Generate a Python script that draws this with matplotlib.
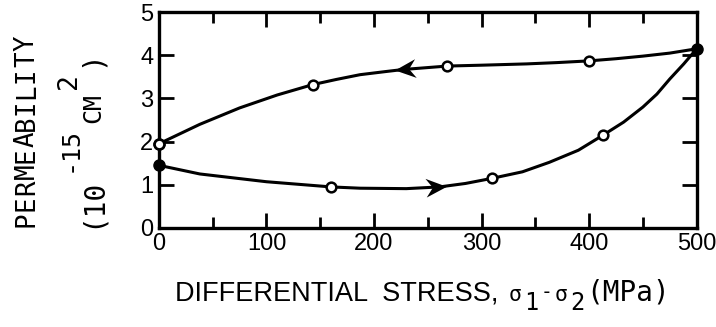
import numpy as np
import matplotlib
matplotlib.use("Agg")
import matplotlib.pyplot as plt
from matplotlib.path import Path
from matplotlib.markers import MarkerStyle
from matplotlib.transforms import Affine2D

# traced curves (stress in MPa, permeability in 1e-15 cm^2)
upper_x = [0, 38, 75, 110, 143, 165, 187, 210, 227, 268, 300, 342, 370, 400, 425, 450, 475, 500]
upper_y = [1.95, 2.4, 2.78, 3.08, 3.32, 3.44, 3.55, 3.62, 3.67, 3.75, 3.77, 3.8, 3.83, 3.87,
           3.92, 3.98, 4.05, 4.15]
lower_x = [0, 38, 100, 160, 187, 230, 261, 285, 310, 338, 363, 390, 413, 432, 450, 463, 475,
           488, 500]
lower_y = [1.45, 1.25, 1.07, 0.95, 0.92, 0.91, 0.95, 1.03, 1.15, 1.3, 1.52, 1.8, 2.15, 2.45,
           2.8, 3.1, 3.45, 3.8, 4.15]

# measured points
open_x = [0, 143, 268, 400, 160, 310, 413]
open_y = [1.95, 3.32, 3.75, 3.87, 0.95, 1.15, 2.15]
filled_x = [0, 500, 0]
filled_y = [1.45, 4.15, 1.95]

# arrow centres along each branch
upper_arrow_x = 229
lower_arrow_x = 258

W, H = 716, 327
sans = 'Liberation Sans'
mono = 'DejaVu Sans Mono'

fig = plt.figure(figsize=(W / 100, H / 100), dpi=100)
ax = fig.add_axes([0.222, 0.303, 0.751, 0.66])
ax.set_xlim(0, 500)
ax.set_ylim(0, 5)

ax.plot(upper_x, upper_y, color='black', lw=2.2, zorder=2)
ax.plot(lower_x, lower_y, color='black', lw=2.2, zorder=2)
ax.plot(filled_x, filled_y, 'o', color='black', ms=8, zorder=3, clip_on=False)
ax.plot(open_x, open_y, 'o', mfc='white', mec='black', mew=1.8, ms=7, zorder=4, clip_on=False)

# swept-back arrowheads on the curves
head = Path([(1, 0), (-1, 0.9), (-0.35, 0), (-1, -0.9), (1, 0)],
            [Path.MOVETO, Path.LINETO, Path.LINETO, Path.LINETO, Path.CLOSEPOLY])
for xa, cx, cy, d in [(upper_arrow_x, upper_x, upper_y, -1), (lower_arrow_x, lower_x, lower_y, 1)]:
    ya = np.interp(xa, cx, cy)
    p0 = ax.transData.transform((xa - 5, np.interp(xa - 5, cx, cy)))
    p1 = ax.transData.transform((xa + 5, np.interp(xa + 5, cx, cy)))
    ang = np.degrees(np.arctan2(p1[1] - p0[1], p1[0] - p0[0])) + (180 if d < 0 else 0)
    m = MarkerStyle(head, transform=Affine2D().rotate_deg(ang))
    ax.plot([xa], [ya], marker=m, ms=15, color='black', mew=0, zorder=5)

ax.set_xticks(range(0, 501, 100))
ax.set_xticks(range(50, 500, 100), minor=True)
ax.set_yticks(range(0, 6))
ax.tick_params(which='both', direction='in', top=True, right=True, width=2,
               labelsize=17, pad=4)
ax.tick_params(which='major', length=11)
ax.tick_params(which='minor', length=8)
for lab in ax.get_xticklabels() + ax.get_yticklabels():
    lab.set_family(sans)
for s in ax.spines.values():
    s.set_linewidth(2.4)

renderer = fig.canvas.get_renderer()


def chain(pieces, x0, y0, vertical=False):
    # lay text pieces one after another; off = shift away from the baseline (px)
    pos = x0 if not vertical else y0
    for s, fam, size, off, gap in pieces:
        pos += gap
        if vertical:
            t = fig.text((x0 - off) / W, pos / H, s, family=fam, fontsize=size,
                         rotation=90, rotation_mode='anchor', ha='left', va='baseline')
            pos = t.get_window_extent(renderer).y1
        else:
            t = fig.text(pos / W, (y0 + off) / H, s, family=fam, fontsize=size,
                         ha='left', va='baseline')
            pos = t.get_window_extent(renderer).x1


# y label, first line: wide-pitch typewriter letters
ylabel = 'PERMEABILITY'
pitch = 16.0
for i, ch in enumerate(ylabel):
    fig.text(34 / W, (H - 219 + i * pitch) / H, ch, family=mono, fontsize=18.5,
             rotation=90, rotation_mode='anchor', ha='center', va='baseline')

chain([('(10', mono, 20, 0, 0), ('-15', mono, 18, 23, 6), ('CM', mono, 18, 0, 4),
       ('2', mono, 19, 24, 4), (')', mono, 20, 0, 6)], 100, H - 228, vertical=True)

chain([('DIFFERENTIAL  STRESS,', sans, 19.5, 0, 0), ('σ', mono, 15.5, 0, 10),
       ('1', mono, 17, -9, 3), ('-', mono, 14, 3, 2), ('σ', mono, 15.5, 0, 2),
       ('2', mono, 17, -9, 3), ('(MPa)', mono, 20, 0, 1)], 175, H - 301)

fig.savefig('out.png', dpi=100)
